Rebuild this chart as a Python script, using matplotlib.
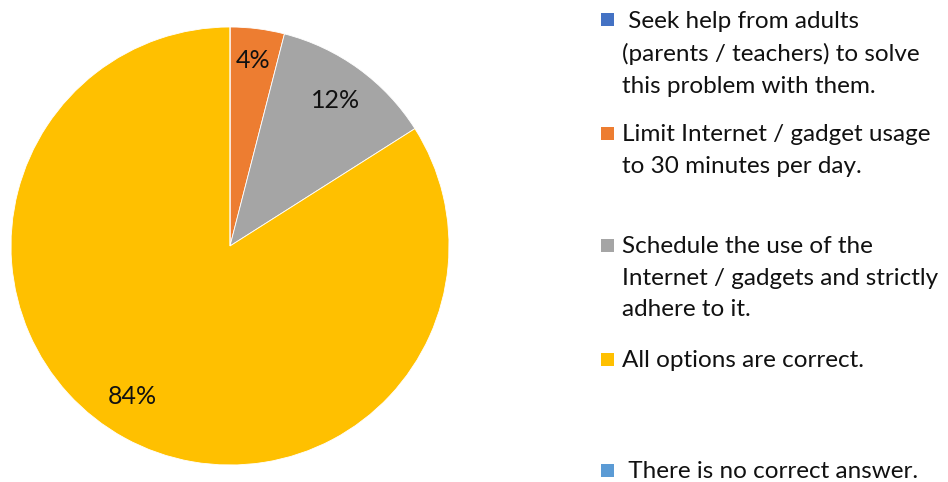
import numpy as np
import matplotlib.pyplot as plt
from matplotlib.patches import Rectangle

plt.rcParams["font.family"] = ["Lato", "DejaVu Sans"]

options = [
    " Seek help from adults\n(parents / teachers) to solve\nthis problem with them.",
    "Limit Internet / gadget usage\nto 30 minutes per day.",
    "Schedule the use of the\nInternet / gadgets and strictly\nadhere to it.",
    "All options are correct.",
    " There is no correct answer.",
]
shares = [0, 4, 12, 84, 0]

colors = ["#4472C4", "#ED7D31", "#A5A5A5", "#FFC000", "#5B9BD5"]

fig = plt.figure(figsize=(9.48, 4.82), dpi=100)
ax = fig.add_axes([11 / 948, 17 / 482, 438 / 948, 438 / 482])

wedges, _ = ax.pie(
    shares,
    colors=colors,
    startangle=90,
    counterclock=False,
    wedgeprops=dict(edgecolor="white", linewidth=0.6),
)
ax.set_aspect("equal")
ax.set_xlim(-1, 1)
ax.set_ylim(-1, 1)

# data labels at slice mid-angles (clockwise from 12 o'clock);
# the big slice gets nudged slightly like a "best fit" placement
total = sum(shares)
before = np.cumsum([0] + shares[:-1])
for val, start in zip(shares, before):
    if val == 0:
        continue
    mid = np.deg2rad(90 - 360 * (start + val / 2) / total)
    r = 0.82
    if val > 50:
        mid -= np.deg2rad(4)
    elif val < 5:
        r = 0.855
    ax.text(r * np.cos(mid), r * np.sin(mid), f"{val}%",
            ha="center", va="center", fontsize=18, color="#111111")

# hand-placed legend, one entry per option
legend_y = [20, 133, 245, 359, 470]
for label, col, y in zip(options, colors, legend_y):
    fy = 1 - y / 482
    fig.add_artist(Rectangle((601 / 948, fy - 6.5 / 482), 13 / 948, 13 / 482,
                             transform=fig.transFigure, color=col, lw=0))
    fig.text(622 / 948, fy + 9 / 482, label, ha="left", va="top",
             fontsize=17.5, linespacing=1.62, color="#111111")

fig.savefig("out.png", dpi=100)
